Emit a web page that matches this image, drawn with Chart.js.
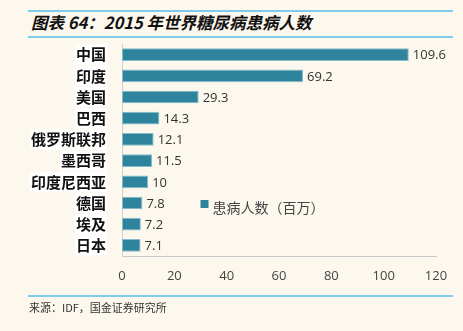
<!DOCTYPE html>
<html>
<head>
<meta charset="utf-8">
<script src="https://cdn.jsdelivr.net/npm/chart.js@4.4.1/dist/chart.umd.min.js"></script>
<style>
  html, body { margin: 0; padding: 0; background: #fdf8ee; }
  #wrap { position: relative; width: 463px; height: 331px; overflow: hidden; }
  #chart { position: absolute; left: 0; top: 0; }
  .rule { position: absolute; left: 28px; width: 425px; height: 2px; background: #7fcbec; }
  #title { position: absolute; left: 31px; top: 10px; font: italic bold 16.5px "Noto Sans CJK SC", sans-serif; color: #111; white-space: nowrap; }
  #source { position: absolute; left: 29px; top: 299px; font: 11px "Noto Sans CJK SC", sans-serif; color: #333; white-space: nowrap; }
</style>
</head>
<body>
<div id="wrap">
  <div class="rule" style="top:10px"></div>
  <div id="title">图表 64：2015 年世界糖尿病患病人数</div>
  <div class="rule" style="top:36px"></div>
  <canvas id="chart" width="463" height="331"></canvas>
  <div class="rule" style="top:295px"></div>
  <div id="source">来源：IDF，国金证券研究所</div>
</div>
<script>
// data
const countries = ['中国', '印度', '美国', '巴西', '俄罗斯联邦', '墨西哥', '印度尼西亚', '德国', '埃及', '日本'];
const patients = [109.6, 69.2, 29.3, 14.3, 12.1, 11.5, 10, 7.8, 7.2, 7.1];
const seriesName = '患病人数（百万）';
const xTicks = [0, 20, 40, 60, 80, 100, 120];

const barColor = '#2e849c';

// value labels at the end of each bar + legend drawn in the empty area
const labelsPlugin = {
    id: 'valueLabels',
    afterDatasetsDraw(chart) {
        const ctx = chart.ctx;
        const meta = chart.getDatasetMeta(0);
        ctx.save();
        ctx.font = '13px "Open Sans", "Noto Sans", sans-serif';
        ctx.fillStyle = '#333';
        ctx.textBaseline = 'middle';
        ctx.textAlign = 'left';
        meta.data.forEach((bar, i) => {
            ctx.fillText(String(patients[i]), bar.x + 4, bar.y + 1);
        });

        // legend, next to the 德国 row
        const x = chart.scales.x.getPixelForValue(30);
        const y = chart.scales.y.getPixelForValue(7) + 1;
        ctx.fillStyle = barColor;
        ctx.fillRect(x, y - 4, 8, 8);
        ctx.fillStyle = '#444';
        ctx.font = '14px "Noto Sans CJK SC", sans-serif';
        ctx.fillText(seriesName, x + 12, y + 4);
        ctx.restore();
    }
};

new Chart(document.getElementById('chart'), {
    type: 'bar',
    data: {
        labels: countries,
        datasets: [{
            label: seriesName,
            data: patients,
            backgroundColor: barColor,
            borderColor: '#86bccb',
            borderWidth: 1,
            borderSkipped: false,
            barPercentage: 0.6,
            categoryPercentage: 1.0,
        }]
    },
    options: {
        indexAxis: 'y',
        responsive: false,
        animation: false,
        layout: { padding: { left: 0, top: 44, right: 27, bottom: 35 } },
        plugins: {
            legend: { display: false },
            tooltip: { enabled: false },
        },
        scales: {
            x: {
                min: 0,
                max: 120,
                afterBuildTicks: (scale) => { scale.ticks = xTicks.map(v => ({ value: v })); },
                afterFit: (scale) => { scale.height = 40; },
                grid: { display: false, drawTicks: false },
                border: { display: true, color: '#c8c8c8', width: 1 },
                ticks: {
                    padding: 12,
                    color: '#444',
                    font: { family: '"Open Sans", "Noto Sans", sans-serif', size: 13 },
                },
            },
            y: {
                afterFit: (scale) => { scale.width = 122; },
                grid: { display: false, drawTicks: false },
                border: { display: true, color: '#d0d0d0', width: 1 },
                ticks: {
                    padding: 16,
                    color: '#111',
                    font: { family: '"Noto Sans CJK SC", sans-serif', size: 15, weight: 'bold' },
                    showLabelBackdrop: true,
                    backdropColor: '#ffffff',
                    backdropPadding: { top: 1, bottom: 1, left: 1, right: 1 },
                },
            },
        },
    },
    plugins: [labelsPlugin],
});
</script>
</body>
</html>
